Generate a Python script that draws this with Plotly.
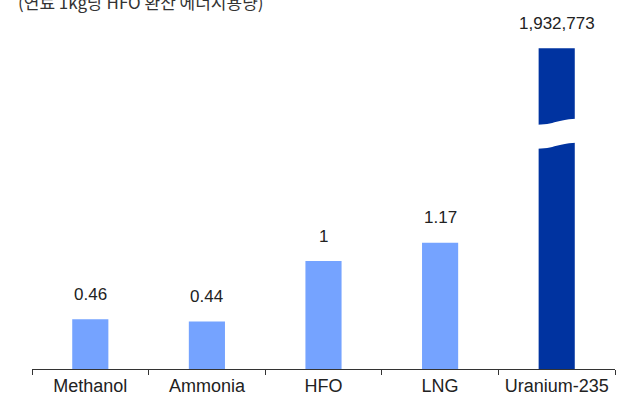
import plotly.graph_objects as go

categories = ["Methanol", "Ammonia", "HFO", "LNG", "Uranium-235"]
values = [0.46, 0.44, 1, 1.17, 1932773]
value_labels = ["0.46", "0.44", "1", "1.17", "1,932,773"]
colors = ["#75A3FF", "#75A3FF", "#75A3FF", "#75A3FF", "#0033A0"]
title_text = "(연료 1kg당 HFO 환산 에너지용량)"

display_cap = 2.97  # broken-axis display height for out-of-scale values
shown = [min(v, display_cap) for v in values]

FONT = "Liberation Sans, Arial, sans-serif"

fig = go.Figure()
fig.add_trace(go.Bar(
    x=categories, y=shown, width=0.31,
    marker=dict(color=colors, line=dict(width=0)),
    hoverinfo="skip",
))

for c, s, t in zip(categories, shown, value_labels):
    fig.add_annotation(x=c, y=s, text=t, showarrow=False, yanchor="middle",
                       yshift=25, font=dict(family=FONT, size=17, color="#222"))

# axis break on the out-of-scale bar
for i, v in enumerate(values):
    if v > display_cap:
        x0, x1 = i - 0.2, i + 0.2
        xm = i
        yl_top, yr_top = display_cap * 0.761, display_cap * 0.78
        yl_bot, yr_bot = display_cap * 0.686, display_cap * 0.705
        path = (f"M {x0},{yl_top} C {xm},{yl_top} {xm},{yr_top} {x1},{yr_top} "
                f"L {x1},{yr_bot} C {xm},{yr_bot} {xm},{yl_bot} {x0},{yl_bot} Z")
        fig.add_shape(type="path", path=path, xref="x", yref="y",
                      fillcolor="white", line=dict(width=0), layer="above")

fig.add_annotation(xref="paper", yref="paper", x=-0.028, y=1.024, xanchor="left",
                   yanchor="middle", text=title_text, showarrow=False,
                   font=dict(family="Noto Sans CJK KR", size=17, color="#333"))

fig.update_layout(
    width=622, height=397,
    margin=dict(l=32, r=7, t=10, b=28, autoexpand=False),
    paper_bgcolor="white", plot_bgcolor="white",
    showlegend=False,
    xaxis=dict(showline=True, linecolor="#333", linewidth=1, automargin=False,
               ticks="outside", tickson="boundaries", ticklen=5, tickcolor="#333",
               tickfont=dict(family=FONT, size=18, color="#222"),
               showgrid=False),
    yaxis=dict(range=[0, 359 / 108], visible=False, showgrid=False, automargin=False),
)

fig.write_html("out.html", config={"displayModeBar": False},
               post_script="document.body.style.margin='0';document.body.style.overflow='hidden';")
